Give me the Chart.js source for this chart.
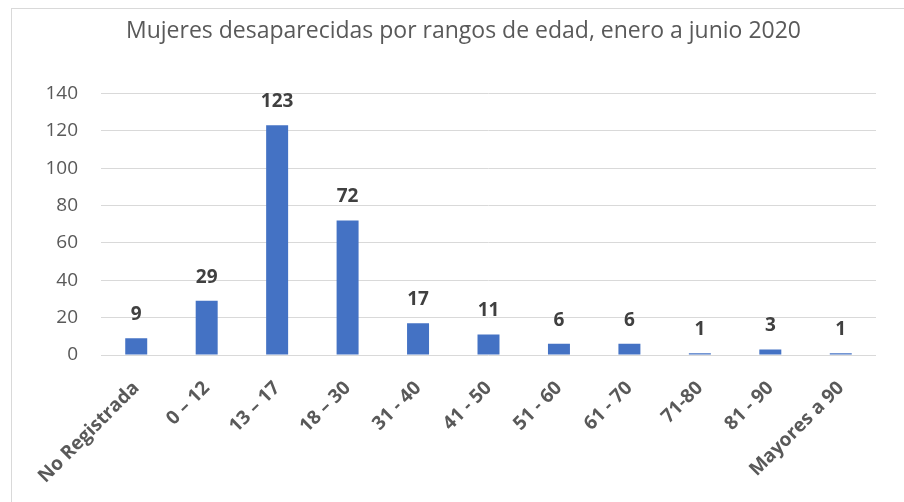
<!DOCTYPE html>
<html>
<head>
<meta charset="utf-8">
<script src="https://cdn.jsdelivr.net/npm/chart.js@4.4.1/dist/chart.umd.min.js"></script>
<style>
  html, body { margin: 0; padding: 0; background: #ffffff; overflow: hidden; }
  #frame { position: absolute; left: 11px; top: 8px; width: 1000px; height: 700px; border: 1px solid #d9d9d9; box-sizing: border-box; }
  #wrap { position: absolute; left: 0; top: 0; width: 904px; height: 502px; }
</style>
</head>
<body>
<div id="frame"></div>
<div id="wrap"><canvas id="c" width="904" height="502"></canvas></div>
<script>
const titleText = "Mujeres desaparecidas por rangos de edad, enero a junio 2020";
const categories = ["No Registrada", "0 – 12", "13 – 17", "18 – 30", "31 - 40", "41 - 50", "51 - 60", "61 - 70", "71-80", "81 - 90", "Mayores a 90"];
const values = [9, 29, 123, 72, 17, 11, 6, 6, 1, 3, 1];
const yTicks = [0, 20, 40, 60, 80, 100, 120, 140];

const FONT = "'Open Sans', 'DejaVu Sans', sans-serif";

const dataLabels = {
  id: 'dataLabels',
  afterDatasetsDraw(chart) {
    const ctx = chart.ctx;
    const meta = chart.getDatasetMeta(0);
    ctx.save();
    ctx.font = "bold 19px " + FONT;
    ctx.fillStyle = "#404040";
    ctx.textAlign = "center";
    ctx.textBaseline = "bottom";
    meta.data.forEach((bar, i) => {
      ctx.fillText(String(values[i]), bar.x, bar.y - 14);
    });
    ctx.restore();
  }
};

new Chart(document.getElementById('c'), {
  type: 'bar',
  data: {
    labels: categories,
    datasets: [{
      data: values,
      backgroundColor: '#4472C4',
      borderWidth: 0,
      barPercentage: 0.312,
      categoryPercentage: 1.0
    }]
  },
  options: {
    responsive: false,
    animation: false,
    devicePixelRatio: 1,
    layout: { padding: { left: 23, right: 0, top: 0, bottom: 0 } },
    plugins: {
      legend: { display: false },
      tooltip: { enabled: false },
      title: {
        display: true,
        text: titleText,
        color: '#595959',
        font: { family: FONT, size: 23, weight: 'normal' },
        padding: { top: 18, bottom: 48 }
      }
    },
    scales: {
      x: {
        grid: { display: false, drawTicks: false },
        border: { display: false },
        ticks: {
          color: '#595959',
          font: { family: FONT, size: 19, weight: 'bold' },
          maxRotation: 45,
          minRotation: 45,
          autoSkip: false,
          padding: 22
        },
        afterFit(s) { s.height = 147; }
      },
      y: {
        min: 0,
        max: 140,
        afterBuildTicks(s) { s.ticks = yTicks.map(v => ({ value: v })); },
        grid: { color: '#d9d9d9', lineWidth: 1, drawTicks: false },
        border: { display: false },
        ticks: {
          color: '#595959',
          font: { family: FONT, size: 19 },
          padding: 23
        },
        afterFit(s) { s.width = 78; }
      },
      yRight: {
        position: 'right',
        min: 0,
        max: 140,
        grid: { display: false, drawTicks: false },
        border: { display: false },
        ticks: { display: false },
        afterFit(s) { s.width = 28; }
      }
    }
  },
  plugins: [dataLabels]
});
</script>
</body>
</html>
